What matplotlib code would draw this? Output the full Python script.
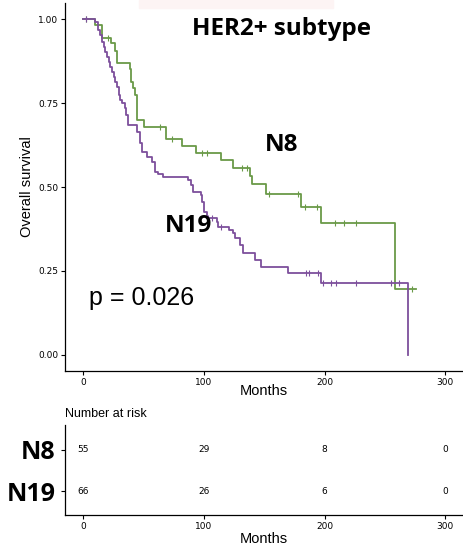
import numpy as np
import matplotlib.pyplot as plt
from matplotlib.patches import Rectangle

# Kaplan-Meier steps (months, survival after the step)
n8_time = [0, 9.5, 15.3, 23.1, 26.4, 28.1, 38.6, 39.7, 41.6, 43.0, 44.4, 50.4,
           68.6, 81.6, 93.4, 114.6, 124.2, 138.0, 140.2, 151.2, 180.7, 196.7, 258.4]
n8_surv = [1.0, 0.982, 0.945, 0.928, 0.905, 0.870, 0.850, 0.813, 0.794, 0.774, 0.700, 0.680,
           0.643, 0.622, 0.602, 0.580, 0.556, 0.533, 0.508, 0.478, 0.441, 0.394, 0.196]
n8_end = 275.8
n8_cens = [2.5, 20.7, 63.6, 73.3, 98.1, 102.7, 131.2, 135.8, 154.0, 177.9, 183.5,
           194.0, 208.3, 215.7, 225.6, 272.7]

n19_time = [0, 10.2, 12.4, 14.3, 15.7, 17.1, 18.4, 19.8, 21.2, 22.6, 24.0, 25.4, 26.7,
            28.1, 29.5, 30.8, 32.2, 34.5, 35.5, 37.2, 44.4, 47.1, 48.5, 52.6, 56.8,
            59.5, 62.2, 65.9, 87.0, 89.0, 90.7, 97.3, 98.1, 100.0, 102.2, 110.5,
            111.8, 120.9, 124.2, 125.6, 129.8, 132.5, 142.1, 147.7, 169.4, 196.7, 268.8]
n19_surv = [1.0, 0.990, 0.967, 0.952, 0.932, 0.918, 0.903, 0.888, 0.873, 0.858, 0.843,
            0.828, 0.813, 0.798, 0.774, 0.759, 0.749, 0.734, 0.714, 0.684, 0.665, 0.630,
            0.605, 0.590, 0.575, 0.545, 0.540, 0.530, 0.520, 0.506, 0.486, 0.476, 0.456,
            0.427, 0.407, 0.397, 0.382, 0.372, 0.362, 0.347, 0.327, 0.302, 0.283, 0.263,
            0.243, 0.213, 0.0]
n19_end = 268.8
n19_cens = [2.0, 103.3, 106.6, 114.6, 184.9, 186.8, 194.5, 198.6, 205.5, 209.1,
            225.6, 255.1, 262.0]

risk_times = [0, 100, 200, 300]
risk_n8 = [55, 29, 8, 0]
risk_n19 = [66, 26, 6, 0]
groups = ['N8', 'N19']

green = '#6a9a48'
purple = '#7d4f9c'


def surv_at(times, surv, t):
    i = np.searchsorted(times, t, side='right') - 1
    return np.array(surv)[i]


fig = plt.figure(figsize=(4.63, 5.48), dpi=100)
fig.patches.append(Rectangle((0.30, 0.986), 0.42, 0.014, transform=fig.transFigure,
                             color='#fdf4f4', zorder=0))

ax = fig.add_axes([0.1404, 0.323, 0.858, 0.6715])
for t, s, end, cens, c in [(n8_time, n8_surv, n8_end, n8_cens, green),
                           (n19_time, n19_surv, n19_end, n19_cens, purple)]:
    tt = list(t) + [end]
    ss = list(s) + [s[-1]]
    ax.step(tt, ss, where='post', color=c, lw=1.3)
    ax.plot(cens, surv_at(t, s, cens), ls='none', marker='|', ms=4, mew=0.8, color=c)

ax.set_xlim(-15, 314)
ax.set_ylim(-0.048, 1.048)
ax.set_xticks([0, 100, 200, 300])
ax.set_yticks([0, 0.25, 0.5, 0.75, 1.0])
ax.set_yticklabels(['0.00', '0.25', '0.50', '0.75', '1.00'])
ax.tick_params(labelsize=6.5, length=3, width=0.8, colors='black', pad=2)
for sp in ['top', 'right']:
    ax.spines[sp].set_visible(False)
for sp in ['left', 'bottom']:
    ax.spines[sp].set_linewidth(0.9)
ax.set_xlabel('Months', fontsize=10.5, family='Liberation Sans', labelpad=-2)
ax.set_ylabel('Overall survival', fontsize=10.5, family='Liberation Sans', labelpad=3)

ax.text(164.5, 0.97, 'HER2+ subtype', fontsize=17.5, fontweight='bold', family='Open Sans',
        ha='center', va='center')
ax.text(164, 0.625, 'N8', fontsize=17.5, fontweight='bold', family='Open Sans',
        ha='center', va='center')
ax.text(87, 0.385, 'N19', fontsize=17.5, fontweight='bold', family='Open Sans',
        ha='center', va='center')
ax.text(5, 0.17, 'p = 0.026', fontsize=18, family='Liberation Sans', ha='left', va='center')

# risk table
rx = fig.add_axes([0.1404, 0.0602, 0.858, 0.1643])
for y, vals in [(2, risk_n8), (1, risk_n19)]:
    for t, v in zip(risk_times, vals):
        rx.text(t, y, str(v), fontsize=6.5, ha='center', va='center')
rx.set_xlim(-15, 314)
rx.set_ylim(0.415, 2.61)
rx.set_xticks(risk_times)
rx.set_yticks([2, 1])
rx.set_yticklabels(groups, fontsize=18, fontweight='bold', family='Open Sans')
rx.tick_params(axis='x', labelsize=6.5, length=3, width=0.8, pad=2)
rx.tick_params(axis='y', length=3, width=0.8, pad=4)
for sp in ['top', 'right']:
    rx.spines[sp].set_visible(False)
for sp in ['left', 'bottom']:
    rx.spines[sp].set_linewidth(0.9)
rx.set_xlabel('Months', fontsize=10.5, family='Liberation Sans', labelpad=1)
rx.set_title('Number at risk', fontsize=9, family='Liberation Sans', loc='left', pad=6)

fig.savefig('out.png', dpi=100)
